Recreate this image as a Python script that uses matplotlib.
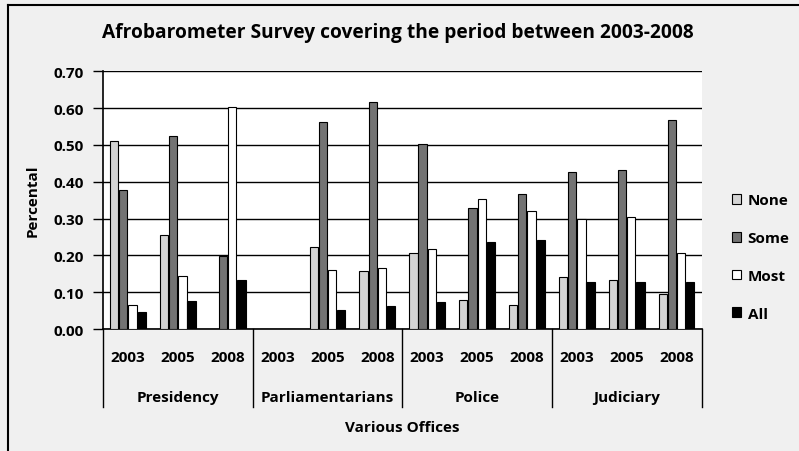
import matplotlib
matplotlib.use("Agg")
import matplotlib.pyplot as plt
from matplotlib.lines import Line2D
from matplotlib.patches import Patch
import numpy as np

offices = ["Presidency", "Parliamentarians", "Police", "Judiciary"]
years = ["2003", "2005", "2008"]
series_names = ["None", "Some", "Most", "All"]

none_vals = [0.51, 0.255, 0.0, 0.0, 0.222, 0.157, 0.206, 0.080, 0.066, 0.140, 0.133, 0.095]
some_vals = [0.378, 0.525, 0.199, 0.0, 0.563, 0.616, 0.502, 0.329, 0.366, 0.427, 0.431, 0.567]
most_vals = [0.066, 0.144, 0.602, 0.0, 0.160, 0.165, 0.217, 0.352, 0.321, 0.299, 0.305, 0.206]
all_vals = [0.047, 0.075, 0.133, 0.0, 0.051, 0.062, 0.074, 0.235, 0.243, 0.128, 0.128, 0.128]

colors = ["#d4d4d4", "#737373", "#ffffff", "#000000"]
FONT = "Open Sans"
plt.rcParams["font.family"] = [FONT, "DejaVu Sans"]
plt.rcParams["font.weight"] = "bold"
FS = 11

W, H = 799, 452
fig = plt.figure(figsize=(W / 100, H / 100), dpi=100)
fig.patch.set_facecolor("#f0f0f0")

def fx(px):
    return px / W

def fy(py):
    return 1 - py / H

left, right, top, bottom = 103, 701.5, 72.3, 330
ax = fig.add_axes([fx(left), fy(bottom), fx(right) - fx(left), fy(top) - fy(bottom)])
ax.set_facecolor("white")

n_cat = len(offices) * len(years)
x = np.arange(n_cat)
series = [none_vals, some_vals, most_vals, all_vals]
step = 0.184
width = 0.166
for i, (vals, c, name) in enumerate(zip(series, colors, series_names)):
    ax.bar(x + (i - 1.5) * step, vals, width=width, color=c, edgecolor="black",
           linewidth=0.8, label=name, zorder=3)

ax.set_xlim(-0.5, n_cat - 0.5)
ax.set_ylim(0, 0.70)
yt = np.arange(0, 0.71, 0.1)
ax.set_yticks(yt)
ax.set_yticklabels([f"{v:.2f}" for v in yt], fontsize=FS, fontweight="bold")
ax.yaxis.grid(True, color="black", linewidth=1.0, zorder=0)
ax.set_axisbelow(True)
ax.tick_params(axis="y", direction="out", length=7, width=1, pad=7)

ax.set_xticks(x)
ax.set_xticklabels(years * len(offices), fontsize=FS, fontweight="bold")
ax.tick_params(axis="x", length=0, pad=15)

for s in ["top", "right"]:
    ax.spines[s].set_visible(False)
ax.spines["left"].set_linewidth(1.2)
ax.spines["bottom"].set_linewidth(1.2)

trans = ax.get_xaxis_transform()
sep_y = -(408 - bottom) / (bottom - top)
for g in range(len(offices) + 1):
    xb = g * len(years) - 0.5
    ax.add_line(Line2D([xb, xb], [0, sep_y], transform=trans, color="black",
                       linewidth=1.0, clip_on=False))
grp_y = -(398 - bottom) / (bottom - top)
for g, name in enumerate(offices):
    xc = g * len(years) + 1
    ax.text(xc, grp_y, name, transform=trans, ha="center", va="center",
            fontsize=FS, fontweight="bold")

fig.text(fx(402), fy(428), "Various Offices", ha="center", va="center",
         fontsize=FS, fontweight="bold")
fig.text(fx(33), fy(201), "Percental", ha="center", va="center", rotation=90,
         fontsize=FS, fontweight="bold")
fig.text(fx(397.5), fy(33), "Afrobarometer Survey covering the period between 2003-2008",
         ha="center", va="center", fontsize=13.8, fontweight="bold")

handles = [Patch(facecolor=c, edgecolor="black", linewidth=0.8) for c in colors]
fig.legend(handles, series_names, loc="center left",
           bbox_to_anchor=(fx(724), fy(258)), frameon=False, borderpad=0,
           handlelength=0.6, handleheight=0.6, handletextpad=0.45,
           labelspacing=1.55, prop={"size": FS, "weight": "bold", "family": FONT})

fig.add_artist(Line2D([fx(8), fx(8)], [fy(6), 0], color="black", linewidth=1.5))
fig.add_artist(Line2D([fx(8), 1], [fy(6), fy(6)], color="black", linewidth=1.5))

fig.savefig("out.png", dpi=100, facecolor=fig.get_facecolor())
